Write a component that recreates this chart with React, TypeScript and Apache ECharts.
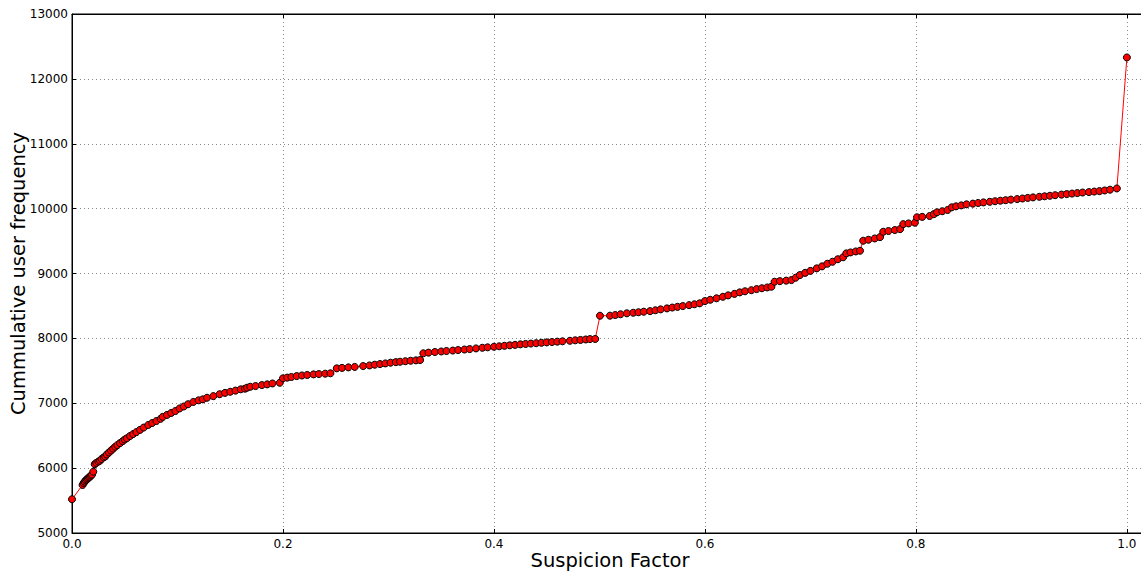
import React, { useEffect, useRef } from "react";
import * as echarts from "echarts";

const suspicion: number[] = [
  0.0, 0.01, 0.011, 0.012, 0.013, 0.014, 0.015, 0.016, 0.017, 0.018, 0.019, 0.0202,
  0.0215, 0.023, 0.025, 0.0265, 0.028, 0.03, 0.0315, 0.033, 0.035, 0.037, 0.039, 0.041,
  0.043, 0.0455, 0.048, 0.05, 0.052, 0.055, 0.058, 0.061, 0.0645, 0.068, 0.0723, 0.076,
  0.08, 0.084, 0.086, 0.09, 0.094, 0.098, 0.102, 0.106, 0.11, 0.115, 0.12, 0.124,
  0.128, 0.134, 0.14, 0.145, 0.15, 0.155, 0.16, 0.164, 0.166, 0.169, 0.174, 0.18,
  0.185, 0.19, 0.197, 0.2, 0.204, 0.208, 0.213, 0.218, 0.223, 0.229, 0.234, 0.24,
  0.245, 0.251, 0.256, 0.262, 0.268, 0.276, 0.282, 0.287, 0.292, 0.297, 0.302, 0.307,
  0.311, 0.316, 0.321, 0.326, 0.33, 0.333, 0.338, 0.344, 0.35, 0.355, 0.361, 0.366,
  0.372, 0.377, 0.383, 0.389, 0.394, 0.4, 0.405, 0.41, 0.415, 0.42, 0.425, 0.43,
  0.435, 0.44, 0.445, 0.45, 0.455, 0.46, 0.465, 0.472, 0.477, 0.482, 0.487, 0.491,
  0.496, 0.5005, 0.51, 0.515, 0.52, 0.526, 0.532, 0.537, 0.542, 0.548, 0.553, 0.558,
  0.564, 0.569, 0.574, 0.579, 0.585, 0.59, 0.595, 0.6, 0.605, 0.611, 0.617, 0.622,
  0.628, 0.633, 0.638, 0.644, 0.649, 0.654, 0.659, 0.663, 0.666, 0.671, 0.677, 0.682,
  0.686, 0.69, 0.695, 0.7, 0.706, 0.711, 0.716, 0.721, 0.726, 0.731, 0.734, 0.738,
  0.743, 0.747, 0.75, 0.755, 0.761, 0.766, 0.769, 0.774, 0.78, 0.785, 0.788, 0.793,
  0.799, 0.801, 0.806, 0.813, 0.817, 0.82, 0.825, 0.83, 0.834, 0.838, 0.843, 0.848,
  0.854, 0.859, 0.864, 0.87, 0.875, 0.88, 0.885, 0.89, 0.896, 0.901, 0.906, 0.911,
  0.917, 0.922, 0.927, 0.932, 0.938, 0.943, 0.948, 0.953, 0.958, 0.964, 0.969, 0.974,
  0.979, 0.984, 0.9905, 1.0,
];

const frequency: number[] = [
  5520, 5740, 5770, 5790, 5810, 5825, 5840, 5855, 5868, 5885, 5900, 5945,
  6060, 6080, 6100, 6115, 6140, 6165, 6180, 6210, 6240, 6270, 6300, 6330,
  6355, 6385, 6415, 6440, 6460, 6495, 6525, 6555, 6590, 6625, 6665, 6695,
  6726, 6760, 6790, 6820, 6850, 6880, 6920, 6950, 6985, 7020, 7045, 7060,
  7085, 7110, 7140, 7160, 7177, 7195, 7215, 7225, 7240, 7254, 7265, 7280,
  7291, 7305, 7316, 7384, 7395, 7405, 7419, 7428, 7436, 7445, 7450, 7456,
  7462, 7538, 7545, 7553, 7560, 7573, 7583, 7594, 7604, 7614, 7625, 7634,
  7640, 7648, 7655, 7661, 7666, 7770, 7780, 7790, 7798, 7805, 7812, 7820,
  7828, 7835, 7845, 7855, 7862, 7871, 7878, 7885, 7893, 7900, 7908, 7914,
  7920, 7926, 7932, 7938, 7944, 7950, 7955, 7963, 7970, 7976, 7983, 7989,
  7991, 8349, 8350, 8360, 8372, 8386, 8395, 8403, 8411, 8420, 8433, 8447,
  8462, 8475, 8486, 8498, 8512, 8526, 8540, 8575, 8595, 8618, 8641, 8663,
  8686, 8709, 8726, 8743, 8760, 8773, 8785, 8796, 8873, 8882, 8890, 8899,
  8935, 8976, 9010, 9040, 9079, 9110, 9150, 9181, 9220, 9250, 9310, 9325,
  9340, 9351, 9505, 9520, 9540, 9561, 9643, 9655, 9670, 9684, 9761, 9772,
  9783, 9866, 9873, 9886, 9915, 9943, 9960, 9979, 10020, 10035, 10050, 10066,
  10077, 10087, 10096, 10105, 10114, 10122, 10130, 10139, 10147, 10156, 10165, 10173,
  10182, 10190, 10198, 10207, 10216, 10224, 10232, 10240, 10248, 10255, 10263, 10270,
  10280, 10292, 10311, 12330,
];

const yTicks: number[] = [5000, 6000, 7000, 8000, 9000, 10000, 11000, 12000, 13000];
const xTickStep = 0.2;
const X_MAX = 1.02;

const FONT = "'DejaVu Sans', sans-serif";

export default function App() {
  const ref = useRef<HTMLDivElement>(null);

  useEffect(() => {
    if (!ref.current) return;
    const chart = echarts.init(ref.current, undefined, { renderer: "svg" });
    const data = suspicion.map((x, i) => [x, frequency[i]]);
    const axisLine = { show: true, lineStyle: { color: "#000", width: 1 } };
    const splitLine = {
      show: true,
      lineStyle: { color: "#8c8c8c", type: [1, 3] as any, width: 1 },
    };
    chart.setOption({
      animation: false,
      backgroundColor: "#fff",
      grid: {
        left: 72,
        top: 14,
        width: 1076,
        height: 519,
        show: true,
        borderColor: "#000",
        borderWidth: 1,
        containLabel: false,
        outerBoundsMode: "none",
      },
      xAxis: [
        {
          type: "value",
          min: 0,
          max: X_MAX,
          interval: xTickStep,
          position: "bottom",
          name: "Suspicion Factor",
          nameLocation: "middle",
          nameGap: 17,
          nameMoveOverlap: false,
          nameTextStyle: { fontFamily: FONT, fontSize: 19.5, color: "#000" },
          axisLine,
          axisTick: { show: true, inside: true, length: 4, lineStyle: { color: "#000" } },
          axisLabel: {
            fontFamily: FONT,
            fontSize: 12,
            color: "#000",
            margin: 5,
            showMaxLabel: false,
            formatter: (v: number) => (v > 1.0001 ? "" : v.toFixed(1)),
          },
          splitLine,
        },
        {
          type: "value",
          min: 0,
          max: X_MAX,
          interval: xTickStep,
          position: "top",
          axisLine,
          axisTick: { show: true, inside: true, length: 4, lineStyle: { color: "#000" } },
          axisLabel: { show: false },
          splitLine: { show: false },
        },
      ],
      yAxis: {
        type: "value",
        min: yTicks[0],
        max: yTicks[yTicks.length - 1],
        interval: 1000,
        name: "Cummulative user frequency",
        nameLocation: "middle",
        nameGap: 44,
        nameMoveOverlap: false,
        nameTextStyle: { fontFamily: FONT, fontSize: 19.5, color: "#000" },
        axisLine,
        axisTick: { show: true, inside: true, length: 4, lineStyle: { color: "#000" } },
        axisLabel: {
          fontFamily: FONT,
          fontSize: 12,
          color: "#000",
          margin: 4,
          formatter: (v: number) => String(v),
        },
        splitLine,
      },
      series: [
        {
          type: "line",
          data,
          xAxisIndex: 0,
          symbol: "circle",
          symbolSize: 7,
          lineStyle: { color: "#ff0000", width: 1 },
          itemStyle: { color: "#ff0000", borderColor: "#000", borderWidth: 1 },
        },
      ],
    });
    return () => chart.dispose();
  }, []);

  return (
    <div
      style={{
        position: "absolute",
        left: 0,
        top: 0,
        width: 1141,
        height: 571,
        overflow: "hidden",
        background: "#fff",
      }}
    >
      <div ref={ref} style={{ width: 1141, height: 571 }} />
    </div>
  );
}
